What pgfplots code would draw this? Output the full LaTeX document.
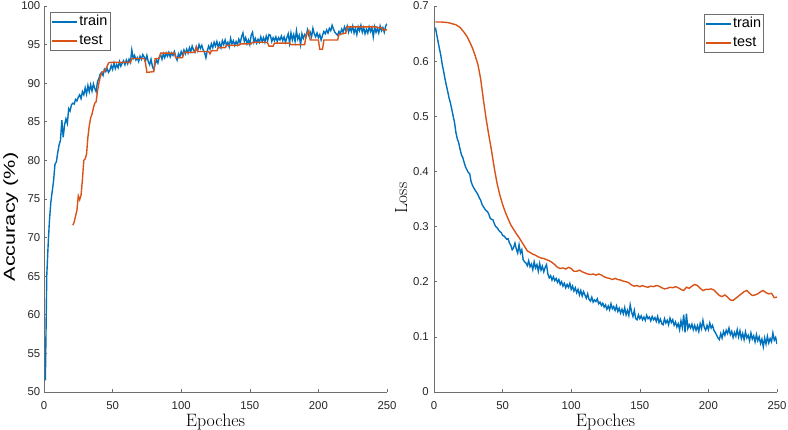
\documentclass[border=0pt]{standalone}
\usepackage{fontspec}
\setsansfont{Liberation Sans}
\renewcommand{\familydefault}{\sfdefault}
\usepackage{graphicx}
\usepackage{pgfplots}
\usepackage{pgfplotstable}
\pgfplotsset{compat=1.18}
\definecolor{mblue}{rgb}{0,0.447,0.741}
\definecolor{morange}{rgb}{0.85,0.325,0.098}
\definecolor{axgray}{RGB}{110,110,110}
\definecolor{txtgray}{RGB}{38,38,38}

\pgfplotstableread[header=false,row sep=\\]{
51.5\\65.0\\69.0\\72.3\\74.6\\76.0\\77.4\\79.5\\79.8\\81.0\\
82.0\\82.6\\85.2\\83.0\\84.6\\85.4\\84.8\\86.7\\86.4\\87.2\\
87.4\\87.3\\87.9\\87.7\\88.2\\88.5\\88.0\\88.9\\88.5\\89.4\\
88.6\\89.7\\88.9\\89.8\\89.0\\89.9\\89.3\\88.9\\90.2\\90.6\\
91.2\\91.4\\91.0\\91.8\\91.5\\91.9\\91.4\\91.7\\92.3\\91.8\\
92.6\\91.9\\92.4\\92.0\\92.8\\92.2\\92.6\\92.9\\92.4\\93.0\\
92.5\\93.1\\92.7\\94.3\\93.2\\93.6\\93.0\\93.3\\92.8\\93.5\\
93.1\\93.7\\93.4\\92.9\\93.6\\92.8\\92.4\\93.1\\92.2\\91.7\\
92.5\\93.0\\92.6\\93.4\\93.7\\93.1\\93.8\\93.3\\93.9\\93.5\\
94.0\\93.4\\93.9\\93.6\\94.1\\93.5\\93.0\\93.8\\93.4\\94.1\\
93.6\\94.3\\93.8\\94.4\\93.9\\94.6\\94.1\\94.8\\94.3\\94.0\\
94.7\\94.2\\95.0\\94.5\\94.9\\94.3\\94.0\\93.3\\94.2\\94.8\\
94.4\\95.1\\94.6\\95.3\\94.8\\95.4\\94.7\\95.2\\94.6\\95.5\\
95.0\\95.6\\94.9\\95.3\\94.7\\95.8\\95.1\\95.5\\94.9\\95.4\\
95.0\\95.7\\95.2\\96.0\\96.5\\95.4\\95.9\\95.1\\95.6\\95.0\\
96.2\\96.6\\95.3\\95.8\\95.2\\95.7\\95.3\\96.0\\95.4\\95.9\\
95.3\\96.1\\95.5\\96.3\\96.2\\95.4\\95.9\\95.5\\96.0\\95.4\\
95.9\\95.6\\96.1\\95.5\\96.0\\95.3\\95.9\\96.4\\95.2\\96.5\\
95.6\\96.3\\95.4\\96.8\\95.7\\96.2\\95.0\\96.4\\95.8\\96.3\\
96.0\\96.9\\96.2\\96.6\\96.0\\97.1\\96.4\\96.0\\96.5\\95.9\\
96.3\\95.6\\96.2\\96.7\\96.4\\96.9\\96.5\\97.1\\96.8\\97.5\\
97.0\\96.6\\96.4\\96.2\\96.7\\96.4\\97.0\\96.6\\97.3\\96.8\\
97.4\\96.6\\97.2\\96.7\\97.4\\96.5\\97.1\\96.3\\97.3\\96.8\\
97.5\\96.6\\97.2\\96.4\\97.0\\96.5\\97.3\\96.7\\97.2\\96.0\\
97.3\\96.6\\97.1\\96.5\\97.4\\96.8\\97.2\\96.6\\97.4\\97.7\\
}\trainacc

\pgfplotstableread[header=false,row sep=\\]{
0.661\\0.648\\0.635\\0.622\\0.610\\0.594\\0.582\\0.568\\0.556\\0.545\\
0.533\\0.524\\0.512\\0.500\\0.488\\0.470\\0.459\\0.452\\0.440\\0.430\\
0.425\\0.416\\0.408\\0.403\\0.398\\0.396\\0.382\\0.375\\0.370\\0.366\\
0.362\\0.358\\0.352\\0.348\\0.340\\0.336\\0.332\\0.329\\0.327\\0.322\\
0.315\\0.313\\0.312\\0.305\\0.300\\0.298\\0.294\\0.291\\0.289\\0.284\\
0.283\\0.280\\0.277\\0.278\\0.270\\0.266\\0.258\\0.262\\0.270\\0.259\\
0.252\\0.267\\0.252\\0.258\\0.240\\0.236\\0.234\\0.229\\0.238\\0.227\\
0.232\\0.222\\0.236\\0.225\\0.231\\0.219\\0.233\\0.221\\0.228\\0.218\\
0.226\\0.231\\0.214\\0.207\\0.211\\0.203\\0.209\\0.202\\0.206\\0.199\\
0.204\\0.195\\0.200\\0.192\\0.197\\0.189\\0.195\\0.190\\0.197\\0.186\\
0.192\\0.183\\0.189\\0.180\\0.186\\0.176\\0.184\\0.174\\0.182\\0.176\\
0.170\\0.178\\0.168\\0.165\\0.172\\0.163\\0.167\\0.164\\0.169\\0.160\\
0.163\\0.157\\0.161\\0.154\\0.158\\0.150\\0.156\\0.149\\0.160\\0.151\\
0.155\\0.148\\0.156\\0.146\\0.152\\0.143\\0.150\\0.142\\0.153\\0.140\\
0.148\\0.139\\0.158\\0.145\\0.137\\0.148\\0.133\\0.131\\0.140\\0.133\\
0.138\\0.131\\0.136\\0.130\\0.139\\0.133\\0.136\\0.129\\0.137\\0.131\\
0.135\\0.128\\0.137\\0.126\\0.132\\0.124\\0.122\\0.133\\0.125\\0.130\\
0.122\\0.134\\0.126\\0.131\\0.121\\0.127\\0.118\\0.124\\0.113\\0.129\\
0.117\\0.140\\0.108\\0.142\\0.115\\0.122\\0.116\\0.123\\0.113\\0.121\\
0.112\\0.120\\0.110\\0.124\\0.115\\0.130\\0.117\\0.112\\0.121\\0.113\\
0.125\\0.116\\0.121\\0.112\\0.108\\0.103\\0.098\\0.095\\0.106\\0.098\\
0.110\\0.103\\0.112\\0.106\\0.116\\0.104\\0.110\\0.099\\0.108\\0.101\\
0.113\\0.100\\0.111\\0.097\\0.106\\0.095\\0.109\\0.098\\0.103\\0.093\\
0.107\\0.096\\0.102\\0.091\\0.104\\0.093\\0.100\\0.088\\0.096\\0.082\\
0.098\\0.087\\0.101\\0.089\\0.097\\0.091\\0.107\\0.094\\0.099\\0.087\\
}\trainloss

\pgfplotsset{
  mystyle/.style={
    scale only axis,
    width=343bp, height=386bp,
    xmin=0, xmax=250,
    xtick={0,50,...,250},
    axis lines*=left,
    axis line style={axgray, line width=0.7bp},
    tick align=inside,
    major tick length=3bp,
    tick style={axgray, line width=0.6bp},
    /pgf/number format/assume math mode=true,
    tick label style={font=\fontsize{11.4}{13}\selectfont, text=txtgray, inner sep=0pt},
    xticklabel style={yshift=-9.5bp},
    xlabel={\rmfamily Epoches},
    xlabel style={font=\fontsize{18}{20}\selectfont, inner sep=0pt, at={(axis description cs:0.5,-0.0570)}, anchor=north},
    legend cell align=left,
    legend image code/.code={\draw[#1, line width=1.4bp] (0bp,0bp) -- (25bp,0bp);},
    legend style={font=\fontsize{14.5}{16}\selectfont, draw=axgray, fill=white, line width=0.7bp,
      inner xsep=1bp, inner ysep=1.5bp, row sep=3bp,
      nodes={inner sep=1.5bp, text height=10bp, text depth=3bp}},
  }
}

\begin{document}
\begin{tikzpicture}
\path[use as bounding box] (0,0) rectangle (788bp,430bp);

\begin{axis}[mystyle,
  at={(44bp,38bp)}, anchor=south west,
  ymin=50, ymax=100, ytick={50,55,...,100},
  yticklabel style={xshift=-3.5bp},
  ylabel={\scalebox{1.36}[1]{Accuracy (\%)}},
  ylabel style={font=\fontsize{16}{19}\selectfont, inner sep=0pt, at={(axis description cs:-0.1195,0.4534)}, anchor=north, rotate=0},
  legend style={at={(axis description cs:0.0175,0.984)}, anchor=north west},
]
\addplot[mblue, line width=1.4bp] table[x expr=\coordindex+1, y index=0] {\trainacc};
\addlegendentry{train}
\addplot[morange, line width=1.4bp] coordinates {
(21,71.6)(22,72.0)(23,72.8)(24,73.5)(25,75.4)(26,74.9)(27,75.5)(28,77.5)(29,80.0)(30,80.2)
(31,80.8)(32,83.0)(33,84.5)(34,85.5)(35,86.0)(36,86.8)(37,87.4)(38,87.6)(39,89.0)(40,90.0)
(41,90.8)(42,91.3)(43,91.5)(44,91.5)(45,91.8)(46,92.2)(47,92.6)(48,92.7)(63,92.7)(64,93.2)
(73,93.2)(74,92.6)(75,91.4)(80,91.5)(81,93.2)(84,93.2)(85,93.9)(95,93.9)(96,93.3)(101,93.3)
(102,94.0)(110,94.0)(111,94.7)(112,94.1)(120,94.1)(121,93.8)(122,94.2)(126,94.2)(127,94.6)
(132,94.6)(133,94.9)(142,94.9)(143,95.1)(151,95.1)(152,95.3)(162,95.3)(163,95.2)(164,94.8)
(167,94.8)(168,95.2)(179,95.2)(180,95.0)(190,95.0)(191,96.2)(193,96.8)(194,95.6)(200,95.6)
(201,94.4)(203,94.4)(204,95.6)(214,95.6)(215,96.3)(220,96.5)(221,97.3)(242,97.3)(243,97.2)
(246,97.2)(247,96.9)(250,96.9)
};
\addlegendentry{test}
\end{axis}

\begin{axis}[mystyle,
  at={(434bp,38bp)}, anchor=south west,
  ymin=0, ymax=0.7, ytick={0,0.1,...,0.7},
  yticklabel style={xshift=-5bp, /pgf/number format/fixed, /pgf/number format/precision=1},
  ylabel={\rmfamily Loss},
  ylabel style={font=\fontsize{17.5}{19}\selectfont, inner sep=0pt, at={(axis description cs:-0.1137,0.5026)}, anchor=north, rotate=0},
  legend style={at={(axis description cs:0.962,0.979)}, anchor=north east},
]
\addplot[mblue, line width=1.4bp] table[x expr=\coordindex+1, y index=0] {\trainloss};
\addlegendentry{train}
\addplot[morange, line width=1.4bp] coordinates {
(1,.671)(5,.671)(10,.670)(13,.668)(16,.666)(19,.661)(22,.652)(24,.645)(26,.635)(28,.624)
(30,.610)(32,.594)(34,.568)(36,.530)(38,.495)(40,.465)(42,.437)(44,.405)(46,.378)(48,.357)
(50,.340)(52,.326)(54,.314)(56,.303)(58,.295)(60,.287)(62,.280)(64,.272)(66,.264)(68,.256)
(70,.253)(72,.250)(74,.248)(76,.245)(78,.243)(80,.242)(82,.240)(84,.238)(86,.235)(88,.231)
(90,.226)(92,.224)(94,.225)(96,.223)(98,.226)(100,.224)(102,.219)(104,.219)(106,.221)(108,.218)
(110,.216)(112,.214)(114,.213)(116,.214)(118,.212)(120,.214)(122,.212)(124,.209)(126,.207)(128,.206)
(130,.204)(132,.206)(134,.204)(136,.203)(138,.201)(140,.200)(142,.198)(144,.194)(146,.192)(148,.193)
(150,.191)(152,.193)(154,.191)(156,.190)(158,.192)(160,.191)(162,.193)(164,.192)(166,.189)(168,.187)
(170,.188)(172,.190)(174,.189)(176,.191)(178,.189)(180,.186)(182,.184)(184,.190)(186,.188)(188,.192)
(190,.195)(192,.193)(194,.188)(196,.184)(198,.186)(200,.186)(202,.187)(204,.185)(206,.180)(208,.175)
(210,.173)(212,.176)(214,.172)(216,.167)(218,.166)(220,.170)(222,.174)(224,.178)(226,.182)(228,.184)
(230,.179)(232,.175)(234,.176)(236,.178)(238,.182)(240,.184)(242,.180)(244,.178)(246,.179)(248,.171)
(250,.172)
};
\addlegendentry{test}
\end{axis}
\end{tikzpicture}
\end{document}
